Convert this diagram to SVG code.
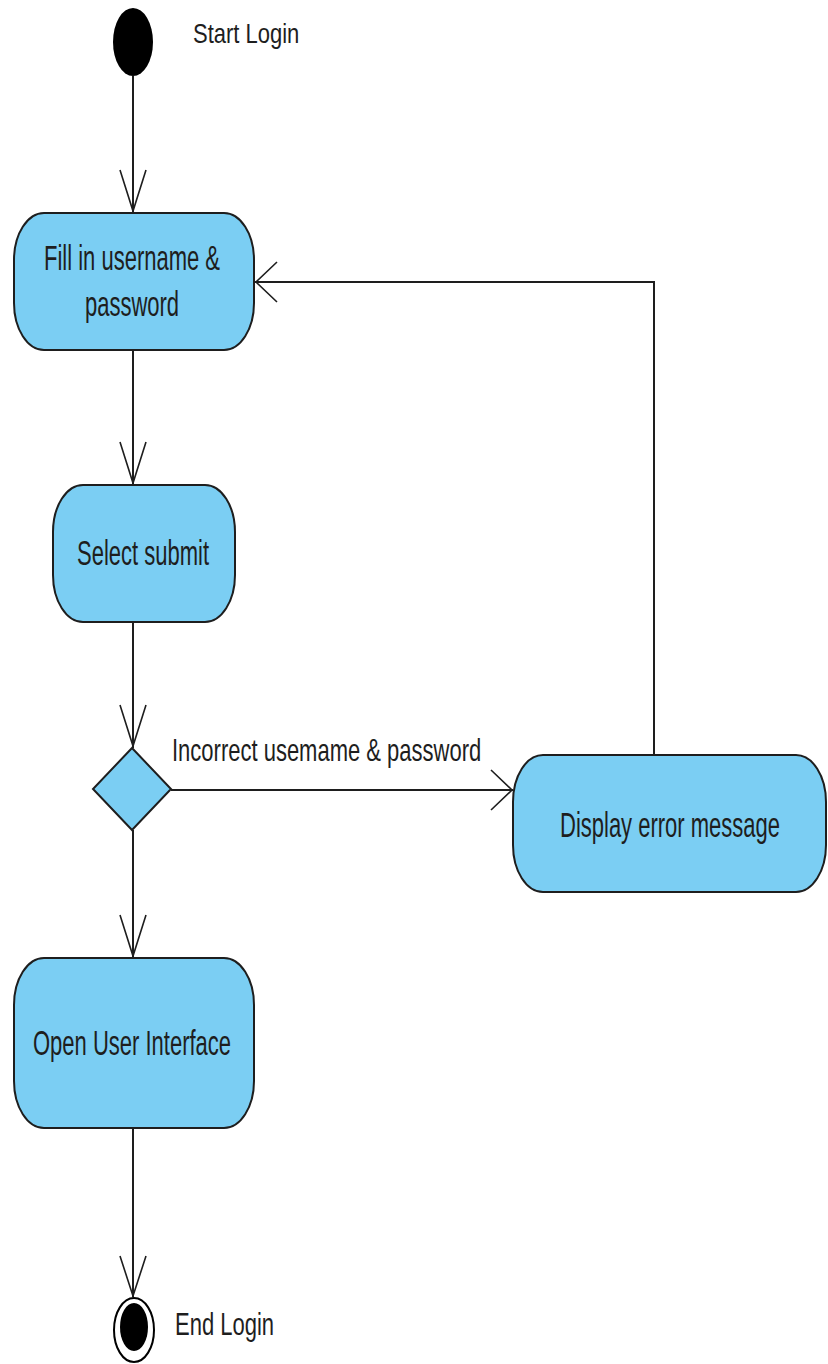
<svg xmlns="http://www.w3.org/2000/svg" width="828" height="1364" viewBox="0 0 828 1364">
  <style>
    .action { fill: #7BCEF3; stroke: #1e1e1e; stroke-width: 2; }
    .edge { fill: none; stroke: #1e1e1e; stroke-width: 2; }
    .head { fill: none; stroke: #1e1e1e; stroke-width: 1.6; stroke-linejoin: miter; }
    .lbl { font-family: "Liberation Sans", Arial, sans-serif; font-size: 22px; fill: #1e1e1e; }
    .mid { text-anchor: middle; }
  </style>
  <rect width="828" height="1364" fill="#ffffff"/>

  <!-- connectors -->
  <g id="connectors">
    <!-- start -> fill in -->
    <line class="edge" x1="133" y1="76" x2="133" y2="213"/>
    <polyline class="head" points="120,170 133,211 146,170"/>
    <!-- fill in -> select submit -->
    <line class="edge" x1="133" y1="350" x2="133" y2="485"/>
    <polyline class="head" points="120,442 133,483 146,442"/>
    <!-- select submit -> decision -->
    <line class="edge" x1="133" y1="622" x2="133" y2="748"/>
    <polyline class="head" points="120,705 133,746 146,705"/>
    <!-- decision -> display error -->
    <line class="edge" x1="171" y1="790" x2="513" y2="790"/>
    <polyline class="head" points="491,770 512,790 491,810"/>
    <!-- display error -> fill in (loop back) -->
    <polyline class="edge" points="654,755 654,282 255,282"/>
    <polyline class="head" points="277,262 256,282 277,302"/>
    <!-- decision -> open user interface -->
    <line class="edge" x1="133" y1="830" x2="133" y2="958"/>
    <polyline class="head" points="120,915 133,956 146,915"/>
    <!-- open user interface -> end -->
    <line class="edge" x1="133" y1="1128" x2="133" y2="1297"/>
    <polyline class="head" points="120,1256 133,1296 146,1256"/>
  </g>

  <!-- initial node -->
  <g id="start">
    <ellipse cx="133" cy="42" rx="20" ry="34" fill="#000000"/>
    <text class="lbl" transform="translate(193,43) scale(1,1.25)">Start Login</text>
  </g>

  <g id="fill-credentials">
    <rect class="action" x="14" y="213" width="240" height="137" rx="30" ry="47"/>
    <text class="lbl mid" transform="translate(132,270) scale(1,1.6)">Fill in username &amp;</text>
    <text class="lbl mid" transform="translate(132,316) scale(1,1.6)">password</text>
  </g>

  <g id="select-submit">
    <rect class="action" x="53" y="485" width="182" height="137" rx="30" ry="47"/>
    <text class="lbl mid" transform="translate(143,565) scale(1,1.6)">Select submit</text>
  </g>

  <g id="decision">
    <polygon class="action" points="132,748 171,789 132,830 93,789"/>
    <text class="lbl" transform="translate(172,761) scale(1,1.45)">Incorrect usemame &amp; password</text>
  </g>

  <g id="display-error">
    <rect class="action" x="513" y="755" width="313" height="137" rx="30" ry="47"/>
    <text class="lbl mid" transform="translate(670,837) scale(1,1.6)">Display error message</text>
  </g>

  <g id="open-ui">
    <rect class="action" x="14" y="958" width="240" height="170" rx="30" ry="47"/>
    <text class="lbl mid" transform="translate(132,1055) scale(1,1.6)">Open User Interface</text>
  </g>

  <!-- final node -->
  <g id="end">
    <ellipse cx="134" cy="1330" rx="20" ry="32" fill="#ffffff" stroke="#000000" stroke-width="2"/>
    <ellipse cx="134" cy="1327" rx="14" ry="24" fill="#000000"/>
    <text class="lbl" transform="translate(175,1335) scale(1,1.4)">End Login</text>
  </g>
</svg>
